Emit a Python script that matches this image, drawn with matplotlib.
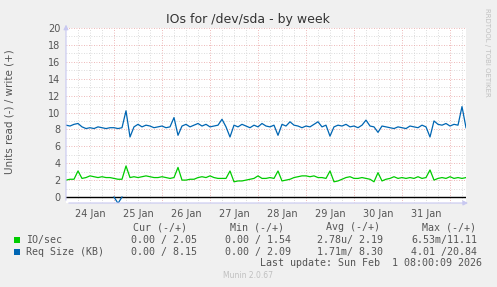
import matplotlib
matplotlib.use('Agg')
import matplotlib.pyplot as plt
from matplotlib.patches import Rectangle
import numpy as np

# ---- colours (munin default look) ----
BG = '#f0f0f0'
GREEN = '#00cc00'
BLUE = '#0066b3'
MAJOR = '#e8a0a0'
MINOR = '#d0d0d0'
AXIS = '#c8c8f0'
TXT = '#555555'

# ---- data: hours since 24 Jan 00:00, one point every 2 h ----
hours = np.arange(0, 201, 2)

io_write = [
    2.0, 2.1, 2.1, 3.08, 2.2, 2.3, 2.5, 2.4, 2.3, 2.4,
    2.3, 2.3, 2.2, 2.1, 2.1, 3.67, 2.3, 2.4, 2.3, 2.4,
    2.5, 2.4, 2.3, 2.3, 2.4, 2.3, 2.2, 2.3, 3.5, 2.0,
    2.0, 2.1, 2.1, 2.3, 2.4, 2.3, 2.5, 2.3, 2.2, 2.2,
    2.2, 3.08, 1.8, 1.9, 1.9, 2.0, 2.1, 2.2, 2.5, 2.2,
    2.2, 2.3, 2.2, 3.08, 1.9, 2.0, 2.1, 2.3, 2.4, 2.5,
    2.5, 2.4, 2.5, 2.3, 2.3, 2.2, 3.08, 1.8, 1.9, 2.1,
    2.3, 2.4, 2.2, 2.2, 2.3, 2.2, 2.1, 1.8, 2.88, 1.9,
    2.1, 2.2, 2.4, 2.2, 2.3, 2.2, 2.3, 2.2, 2.4, 2.2,
    2.3, 3.2, 2.0, 2.2, 2.3, 2.2, 2.4, 2.2, 2.3, 2.2,
    2.3]

req_write = [
    8.5, 8.4, 8.6, 8.7, 8.3, 8.1, 8.2, 8.1, 8.3, 8.2,
    8.1, 8.2, 8.2, 8.1, 8.2, 10.2, 7.1, 8.3, 8.6, 8.3,
    8.5, 8.4, 8.2, 8.3, 8.4, 8.2, 8.3, 9.4, 7.3, 8.4,
    8.6, 8.3, 8.5, 8.7, 8.4, 8.6, 8.3, 8.4, 8.5, 9.2,
    8.3, 7.1, 8.5, 8.3, 8.6, 8.4, 8.2, 8.5, 8.3, 8.7,
    8.4, 8.3, 8.5, 7.3, 8.6, 8.4, 8.9, 8.5, 8.4, 8.2,
    8.4, 8.3, 8.6, 8.9, 8.3, 8.5, 7.2, 8.3, 8.5, 8.4,
    8.6, 8.3, 8.4, 8.2, 8.5, 9.1, 8.4, 8.3, 7.65, 8.4,
    8.3, 8.2, 8.1, 8.3, 8.2, 8.1, 8.4, 8.3, 8.2, 8.5,
    8.3, 7.1, 9.0, 8.6, 8.5, 8.7, 8.4, 8.6, 8.5, 10.7,
    8.2]

# read side is drawn negative; only one blip on req size
req_read_hour = [24, 26, 28]
req_read = [0.0, -0.75, 0.0]

day_labels = ['24 Jan', '25 Jan', '26 Jan', '27 Jan', '28 Jan', '29 Jan', '30 Jan', '31 Jan']

W, H = 497, 287
fig = plt.figure(figsize=(W / 100, H / 100), dpi=100, facecolor=BG)
ax = fig.add_axes([66 / W, (H - 203) / H, 400 / W, 175 / H], facecolor='white')
ax.set_xlim(0, 200)
ax.set_ylim(-0.71, 20)

# grid
for h in range(6, 200, 6):
    if h % 24:
        ax.axvline(h, color=MINOR, lw=0.6, ls=(0, (1, 2)), zorder=0)
for h in range(24, 200, 24):
    ax.axvline(h, color=MAJOR, lw=0.6, ls=(0, (1, 2)), zorder=0)
for v in range(1, 21, 2):
    ax.axhline(v, color=MINOR, lw=0.6, ls=(0, (1, 2)), zorder=0)
for v in range(2, 21, 2):
    ax.axhline(v, color=MAJOR, lw=0.6, ls=(0, (1, 2)), zorder=0)

ax.axhline(0, color='black', lw=1.0, zorder=2)
ax.plot(hours, io_write, color=GREEN, lw=0.9, zorder=3)
ax.plot(hours, req_write, color=BLUE, lw=0.9, zorder=3)
ax.plot(req_read_hour, req_read, color=BLUE, lw=0.9, zorder=3)

for s in ax.spines.values():
    s.set_visible(False)

# axis lines with arrows
ax.annotate('', xy=(1.012, 0), xytext=(0, 0), xycoords='axes fraction',
            arrowprops=dict(arrowstyle='-|>', color=AXIS, lw=0.8, mutation_scale=7))
ax.annotate('', xy=(0, 1.035), xytext=(0, 0), xycoords='axes fraction',
            arrowprops=dict(arrowstyle='-|>', color=AXIS, lw=0.8, mutation_scale=7))

ax.set_yticks(range(0, 21, 2))
ax.set_yticklabels([str(v) for v in range(0, 21, 2)])
ax.set_xticks([12 + 24 * i for i in range(len(day_labels))])
ax.set_xticklabels(day_labels)
ax.tick_params(axis='both', length=0, labelsize=7, labelcolor=TXT, pad=4)

fig.text(248 / W, 1 - 19 / H, 'IOs for /dev/sda - by week', ha='center', va='center',
         fontsize=9, color='#333333')
fig.text(10 / W, 1 - 112 / H, 'Units read (-) / write (+)', rotation=90,
         ha='center', va='center', fontsize=7.5, color=TXT)
fig.text(487 / W, 1 - 52 / H, 'RRDTOOL / TOBI OETIKER', rotation=270,
         ha='center', va='center', fontsize=5, color='#c0c0c0')

# legend block
mono = dict(family='DejaVu Sans Mono', fontsize=7.2, color=TXT, va='center')
heads = ['Cur (-/+)', 'Min (-/+)', 'Avg (-/+)', 'Max (-/+)']
head_x = [187, 284, 380, 476]
val_x = [197, 291, 383, 477]
rows = [
    ('IO/sec', GREEN, ['0.00 / 2.05', '0.00 / 1.54', '2.78u/ 2.19', '6.53m/11.11']),
    ('Req Size (KB)', BLUE, ['0.00 / 8.15', '0.00 / 2.09', '1.71m/ 8.30', '4.01 /20.84']),
]
for t, x in zip(heads, head_x):
    fig.text(x / W, 1 - 227.5 / H, t, ha='right', **mono)
for k, (name, col, vals) in enumerate(rows):
    y = 240 + 11.7 * k
    fig.patches.append(Rectangle((14 / W, 1 - (y + 3) / H), 6 / W, 6 / H,
                                 transform=fig.transFigure, facecolor=col, edgecolor='none'))
    fig.text(26 / W, 1 - y / H, name, ha='left', **mono)
    for v, x in zip(vals, val_x):
        fig.text(x / W, 1 - y / H, v, ha='right', **mono)
fig.text(482 / W, 1 - 263.5 / H, 'Last update: Sun Feb  1 08:00:09 2026', ha='right', **mono)
fig.text(248 / W, 1 - 276 / H, 'Munin 2.0.67', ha='center', va='center',
         fontsize=5.5, color='#c0c0c0')

fig.savefig('out.png', dpi=100, facecolor=BG)
